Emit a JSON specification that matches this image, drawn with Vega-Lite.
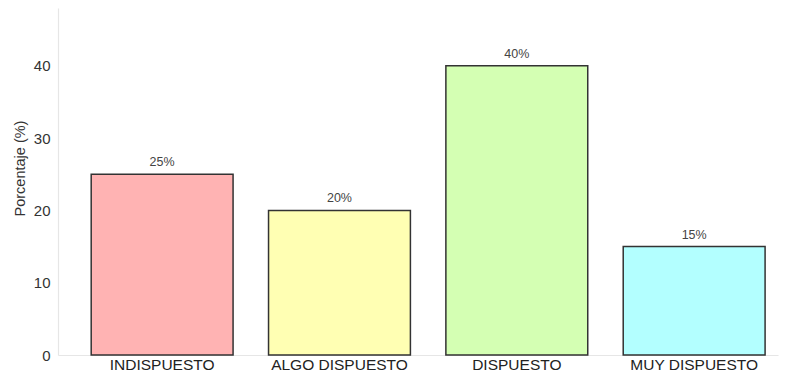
{
  "$schema": "https://vega.github.io/schema/vega-lite/v6.json",
  "width": 720,
  "height": 347,
  "autosize": {"type": "none"},
  "padding": {"left": 58, "top": 8, "right": 11, "bottom": 19},
  "background": "white",
  "config": {
    "view": {"stroke": null},
    "font": "Liberation Sans"
  },
  "data": {
    "values": [
      {"categoria": "INDISPUESTO", "porcentaje": 25, "etiqueta": "25%"},
      {"categoria": "ALGO DISPUESTO", "porcentaje": 20, "etiqueta": "20%"},
      {"categoria": "DISPUESTO", "porcentaje": 40, "etiqueta": "40%"},
      {"categoria": "MUY DISPUESTO", "porcentaje": 15, "etiqueta": "15%"}
    ]
  },
  "encoding": {
    "x": {
      "field": "categoria",
      "type": "nominal",
      "sort": null,
      "scale": {"paddingInner": 0.2, "paddingOuter": 0.13, "align": 0.72},
      "axis": {
        "title": null,
        "labelAngle": 0,
        "labelFontSize": 15.5,
        "labelColor": "#222222",
        "labelPadding": 2,
        "ticks": false,
        "domainColor": "#e6e6e6",
        "domainWidth": 1.2
      }
    },
    "y": {
      "field": "porcentaje",
      "type": "quantitative",
      "scale": {"domain": [0, 48], "nice": false},
      "axis": {
        "title": "Porcentaje (%)",
        "titleFontSize": 14.5,
        "titleFontWeight": "normal",
        "titleColor": "#333333",
        "titlePadding": 6,
        "titleY": 160,
        "values": [0, 10, 20, 30, 40],
        "labelFontSize": 15,
        "labelColor": "#333333",
        "labelPadding": 8,
        "ticks": false,
        "grid": false,
        "domainColor": "#e6e6e6",
        "domainWidth": 1.2
      }
    }
  },
  "layer": [
    {
      "mark": {"type": "bar", "stroke": "#333333", "strokeWidth": 1.5},
      "encoding": {
        "color": {
          "field": "categoria",
          "type": "nominal",
          "sort": null,
          "scale": {
            "domain": ["INDISPUESTO", "ALGO DISPUESTO", "DISPUESTO", "MUY DISPUESTO"],
            "range": ["#ffb3b3", "#ffffb3", "#d4ffb3", "#b3ffff"]
          },
          "legend": null
        }
      }
    },
    {
      "mark": {"type": "text", "baseline": "bottom", "dy": -5, "fontSize": 12.5, "color": "#444444"},
      "encoding": {"text": {"field": "etiqueta"}}
    }
  ]
}
